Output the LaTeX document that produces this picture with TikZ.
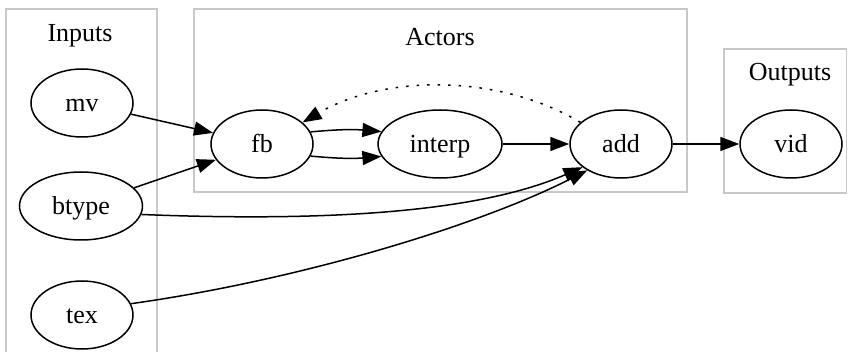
\documentclass[tikz,border=0pt]{standalone}
\usepackage{fontspec}
\setmainfont{Liberation Serif}
\usetikzlibrary{shapes.geometric, arrows.meta}
\definecolor{clustergray}{RGB}{200,200,200}

\begin{document}
\begin{tikzpicture}[x=1pt, y=1pt,
    nd/.style={draw, ellipse, line width=1.5pt, minimum width=102pt,
      minimum height=68pt, inner sep=0pt, text height=23pt, text depth=6pt,
      font=\rmfamily\fontsize{26}{30}\selectfont},
    clus/.style={draw=clustergray, line width=1.6pt},
    lbl/.style={anchor=base, font=\rmfamily\fontsize{26}{30}\selectfont},
    edge/.style={line width=1.5pt, -{Triangle[length=19pt, width=14pt]}},
    back/.style={edge, dash pattern=on 2.5pt off 8pt}]
  \clip (0,0) rectangle (848,-352);
  % clusters
  \draw[clus] (6,-9) rectangle (157,-370);
  \draw[clus] (194,-9) rectangle (687,-192);
  \draw[clus] (724,-49) rectangle (846.5,-193);
  \node[lbl] (inlbl) at (80,-42) {Inputs};
  \node[lbl] (actlbl) at (440,-46) {Actors};
  \node[lbl] (outlbl) at (790,-81) {Outputs};

  % nodes
  \node[nd] (mv) at (82,-103) {mv};
  \node[nd, minimum width=123pt] (btype) at (81,-206) {btype};
  \node[nd] (tex) at (82,-315) {tex};
  \node[nd] (fb) at (262,-144) {fb};
  \node[nd, minimum width=124pt] (interp) at (440,-144) {interp};
  \node[nd] (add) at (621,-144) {add};
  \node[nd] (vid) at (791,-144) {vid};

  % edges
  \draw[edge] (mv) -- (fb);
  \draw[edge] (btype) -- (fb);
  \draw[edge] (fb.14) to[bend left=5] (interp.168);
  \draw[edge] (fb.-14) to[bend right=5] (interp.-168);
  \draw[edge] (interp) -- (add);
  \draw[back] (add.152) .. controls (500,-74) and (385,-74) .. (fb.28);
  \draw[edge] (btype.-8) .. controls (330,-222) and (480,-212) .. (add.211);
  \draw[edge] (tex.13) .. controls (300,-280) and (480,-225) .. (add.218);
  \draw[edge] (add) -- (vid);
\end{tikzpicture}
\end{document}
